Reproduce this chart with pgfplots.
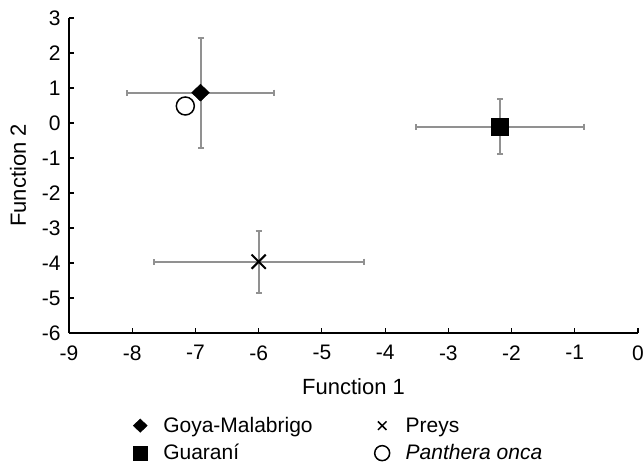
\documentclass[border=0pt]{standalone}
\usepackage{fontspec}
\setmainfont{Liberation Sans}
\usepackage{pgfplots}
\pgfplotsset{compat=1.18}
\definecolor{errgray}{RGB}{145,145,145}

\begin{document}
\begin{tikzpicture}
\useasboundingbox (-69pt,-132pt) rectangle (575pt,333pt);
\begin{axis}[
  at={(0pt,0pt)}, anchor=south west,
  scale only axis, width=569pt, height=315pt,
  xmin=-9, xmax=0, ymin=-6, ymax=3,
  xtick={-9,-8,...,0}, ytick={-6,-5,...,3},
  axis lines=left, axis line style={-, black, line width=1.3pt},
  tick align=inside, major tick length=5pt,
  tick style={black, line width=1.2pt},
  /pgf/number format/assume math mode=true,
  tick label style={font=\fontsize{21}{25}\selectfont},
  xticklabel style={yshift=-9pt},
  yticklabel style={xshift=-5pt},
  label style={font=\fontsize{22}{26}\selectfont},
  xlabel={Function 1}, ylabel={Function 2},
  xlabel style={at={(axis description cs:0.5,-0.1714)}, anchor=center},
  ylabel style={at={(axis description cs:-0.0896,0.5)}, anchor=center},
  legend columns=2,
  legend style={at={(0.1125,-0.2665)}, anchor=north west,
    draw=none, fill=none, inner sep=0pt,
    font=\fontsize{21}{25}\selectfont,
    nodes={inner sep=0pt, anchor=west, text height=15pt, text depth=2pt},
    row sep=10.5pt,
    /tikz/every odd column/.append style={column sep=16pt},
    /tikz/every even column/.append style={column sep=62pt}},
  legend image code/.code={\draw[#1] plot coordinates {(0pt,0pt)};},
  error bars/error bar style={errgray, line width=2pt},
  error bars/error mark options={rotate=90, errgray, line width=2pt, mark size=3pt},
]
% Goya-Malabrigo
\addplot[only marks, black, mark=diamond*, mark size=8.5pt,
  mark options={black, fill=black, xscale=1.4},
  legend image post style={mark size=6.7pt},
  error bars/.cd, x dir=both, x explicit, y dir=both, y explicit]
  coordinates {(-6.92,0.866) +- (1.17,1.57)};
\addlegendentry{Goya-Malabrigo}
% Preys
\addplot[only marks, black, mark=x, mark size=10pt,
  mark options={black, line width=2pt},
  legend image post style={mark size=6pt, mark options={black, line width=1.5pt}},
  error bars/.cd, x dir=both, x explicit, y dir=both, y explicit]
  coordinates {(-6.00,-3.963) +- (1.66,0.886)};
\addlegendentry{Preys}
% Guarani
\addplot[only marks, black, mark=square*, mark size=8.5pt,
  mark options={black, fill=black},
  legend image post style={mark size=7pt},
  error bars/.cd, x dir=both, x explicit, y dir=both, y explicit]
  coordinates {(-2.18,-0.106) +- (1.33,0.78)};
\addlegendentry{Guaraní}
% Panthera onca
\addplot[only marks, black, mark=o, mark size=9pt,
  mark options={black, fill=white, line width=1.5pt},
  legend image post style={mark size=7.5pt}]
  coordinates {(-7.16,0.486)};
\addlegendentry{\textit{Panthera onca}}
\end{axis}
\end{tikzpicture}
\end{document}
